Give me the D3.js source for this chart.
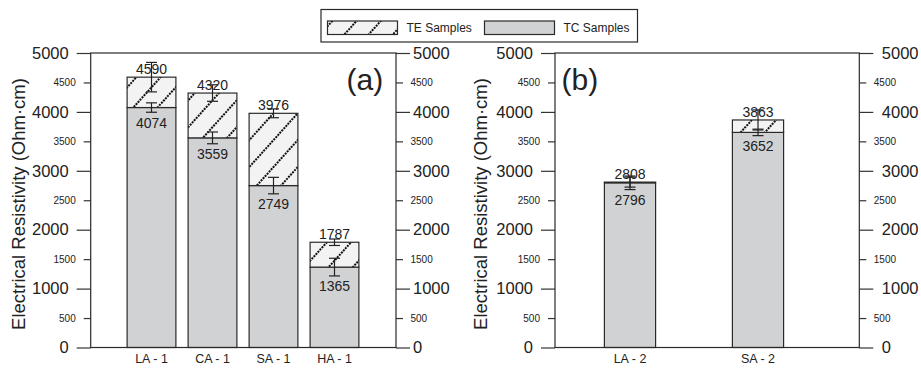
<!DOCTYPE html>
<html>
<head>
<meta charset="utf-8">
<script src="https://cdn.jsdelivr.net/npm/d3@7"></script>
<style>
  body { margin: 0; background: #fff; }
  svg { display: block; font-family: "Liberation Sans", Arial, sans-serif; }
</style>
</head>
<body>
<div id="chart"></div>
<script>
const width = 921;
const height = 369;

// panel (a)
const catsA = ["LA - 1", "CA - 1", "SA - 1", "HA - 1"];
const tcA = [4074, 3559, 2749, 1365];
const teA = [4590, 4320, 3976, 1787];
const tcErrA = [80, 100, 140, 150];
const teErrA = [250, 140, 75, 55];

// panel (b)
const catsB = ["LA - 2", "SA - 2"];
const tcB = [2796, 3652];
const teB = [2808, 3863];
const tcErrB = [115, 55];
const teErrB = [85, 170];

const majorTicks = [0, 1000, 2000, 3000, 4000, 5000];
const minorTicks = [500, 1500, 2500, 3500, 4500];
const legendItems = ["TE Samples", "TC Samples"];

const svg = d3.select("#chart").append("svg")
    .attr("width", width)
    .attr("height", height);

// hatch pattern for the TE part
const defs = svg.append("defs");
const pat = defs.append("pattern")
    .attr("id", "hatch")
    .attr("patternUnits", "userSpaceOnUse")
    .attr("width", 18)
    .attr("height", 18)
    .attr("patternTransform", "rotate(42)");
pat.append("rect").attr("width", 18).attr("height", 18).attr("fill", "#f3f3f3");
pat.append("line")
    .attr("x1", 9).attr("y1", 0).attr("x2", 9).attr("y2", 18)
    .attr("stroke", "#111")
    .attr("stroke-width", 2)
    .attr("stroke-dasharray", "2,1");

const y = d3.scaleLinear().domain([0, 5000]).range([347.5, 53]);
const fmt = d3.format("d");

function panel(opts) {
    const { cats, tc, te, tcErr, teErr, x0, x1, bandRange, pIn, pOut, tag, tagX, titleX, rightPad } = opts;
    const g = svg.append("g");

    const x = d3.scaleBand()
        .domain(cats)
        .range(bandRange)
        .paddingInner(pIn)
        .paddingOuter(pOut);

    // y title
    g.append("text")
        .attr("transform", `translate(${titleX},${204}) rotate(-90)`)
        .attr("text-anchor", "middle")
        .attr("font-size", 18.5)
        .attr("fill", "#222")
        .text("Electrical Resistivity (Ohm\u00b7cm)");

    // left axes
    const leftMajor = g.append("g").attr("transform", `translate(${x0},0)`)
        .call(d3.axisLeft(y).tickValues(majorTicks).tickFormat(fmt).tickSize(14).tickPadding(8));
    leftMajor.selectAll("text").attr("font-size", 16.5);
    const leftMinor = g.append("g").attr("transform", `translate(${x0},0)`)
        .call(d3.axisLeft(y).tickValues(minorTicks).tickFormat(fmt).tickSize(7).tickPadding(8));
    leftMinor.selectAll("text").attr("font-size", 10);

    // right axes
    const rightMajor = g.append("g").attr("transform", `translate(${x1},0)`)
        .call(d3.axisRight(y).tickValues(majorTicks).tickFormat(fmt).tickSize(14).tickPadding(rightPad[0]));
    rightMajor.selectAll("text").attr("font-size", 16.5);
    const rightMinor = g.append("g").attr("transform", `translate(${x1},0)`)
        .call(d3.axisRight(y).tickValues(minorTicks).tickFormat(fmt).tickSize(7).tickPadding(rightPad[1]));
    rightMinor.selectAll("text").attr("font-size", 10);

    g.selectAll(".domain").remove();
    g.selectAll(".tick line").attr("stroke", "#333").attr("stroke-width", 1.2);
    g.selectAll(".tick text").attr("fill", "#222");

    // bottom labels
    const xAxis = g.append("g").attr("transform", `translate(0,${y(0)})`)
        .call(d3.axisBottom(x).tickSize(0).tickPadding(7));
    xAxis.select(".domain").remove();
    xAxis.selectAll("text").attr("font-size", 12.5).attr("fill", "#222");

    const rows = cats.map((c, i) => ({ c, tc: tc[i], te: te[i], tcErr: tcErr[i], teErr: teErr[i] }));

    // TC bars
    g.selectAll(".tc").data(rows).enter().append("rect")
        .attr("x", d => x(d.c))
        .attr("width", x.bandwidth())
        .attr("y", d => y(d.tc))
        .attr("height", d => y(0) - y(d.tc))
        .attr("fill", "#d1d2d4")
        .attr("stroke", "#2a2a2a")
        .attr("stroke-width", 1.2);

    // TE segments
    g.selectAll(".te").data(rows).enter().append("rect")
        .attr("x", d => x(d.c))
        .attr("width", x.bandwidth())
        .attr("y", d => y(d.te))
        .attr("height", d => y(d.tc) - y(d.te))
        .attr("fill", "url(#hatch)")
        .attr("stroke", "#2a2a2a")
        .attr("stroke-width", 1.2);

    // error bars
    const errs = [];
    rows.forEach(d => {
        errs.push({ c: d.c, v: d.te, e: d.teErr });
        errs.push({ c: d.c, v: d.tc, e: d.tcErr });
    });
    const eg = g.selectAll(".err").data(errs).enter().append("g")
        .attr("stroke", "#222").attr("stroke-width", 1.2);
    const cx = d => x(d.c) + x.bandwidth() / 2;
    eg.append("line")
        .attr("x1", cx).attr("x2", cx)
        .attr("y1", d => y(d.v + d.e)).attr("y2", d => y(d.v - d.e));
    eg.append("line")
        .attr("x1", d => cx(d) - 5.5).attr("x2", d => cx(d) + 5.5)
        .attr("y1", d => y(d.v + d.e)).attr("y2", d => y(d.v + d.e));
    eg.append("line")
        .attr("x1", d => cx(d) - 5.5).attr("x2", d => cx(d) + 5.5)
        .attr("y1", d => y(d.v - d.e)).attr("y2", d => y(d.v - d.e));

    // value labels
    g.selectAll(".telab").data(rows).enter().append("text")
        .attr("x", cx)
        .attr("y", d => y(d.te) - 3)
        .attr("text-anchor", "middle")
        .attr("font-size", 14)
        .attr("fill", "#222")
        .text(d => d.te);
    // TC value sits just under the lower error cap
    g.selectAll(".tclab").data(rows).enter().append("text")
        .attr("x", cx)
        .attr("y", d => y(d.tc - d.tcErr) + 15.5)
        .attr("text-anchor", "middle")
        .attr("font-size", 14)
        .attr("fill", "#222")
        .text(d => d.tc);

    // frame
    g.append("rect")
        .attr("x", x0).attr("y", y(5000))
        .attr("width", x1 - x0).attr("height", y(0) - y(5000))
        .attr("fill", "none")
        .attr("stroke", "#2a2a2a")
        .attr("stroke-width", 1.2);

    // panel tag
    g.append("text")
        .attr("x", tagX).attr("y", 90)
        .attr("font-size", 30)
        .attr("fill", "#222")
        .text(tag);
}

panel({ cats: catsA, tc: tcA, te: teA, tcErr: tcErrA, teErr: teErrA,
    x0: 90.7, x1: 396, bandRange: [121, 365], pIn: 0.2, pOut: 0.1,
    tag: "(a)", tagX: 346.5, titleX: 25, rightPad: [3, 7.5] });

panel({ cats: catsB, tc: tcB, te: teB, tcErr: tcErrB, teErr: teErrB,
    x0: 555, x1: 859.3, bandRange: [566, 822], pIn: 0.6, pOut: 0.3,
    tag: "(b)", tagX: 561.5, titleX: 487, rightPad: [8.5, 7.5] });

// legend
const lg = svg.append("g");
lg.append("rect")
    .attr("x", 321).attr("y", 9.5)
    .attr("width", 316.5).attr("height", 32.5)
    .attr("fill", "#fff")
    .attr("stroke", "#2a2a2a")
    .attr("stroke-width", 1.2);
const legX = [327.5, 484.5];
const legFill = ["url(#hatch)", "#d1d2d4"];
legendItems.forEach((name, i) => {
    lg.append("rect")
        .attr("x", legX[i]).attr("y", 21)
        .attr("width", 70).attr("height", 13.5)
        .attr("fill", legFill[i])
        .attr("stroke", "#2a2a2a")
        .attr("stroke-width", 1.2);
    lg.append("text")
        .attr("x", legX[i] + 79).attr("y", 32)
        .attr("font-size", 12)
        .attr("fill", "#222")
        .text(name);
});
</script>
</body>
</html>
